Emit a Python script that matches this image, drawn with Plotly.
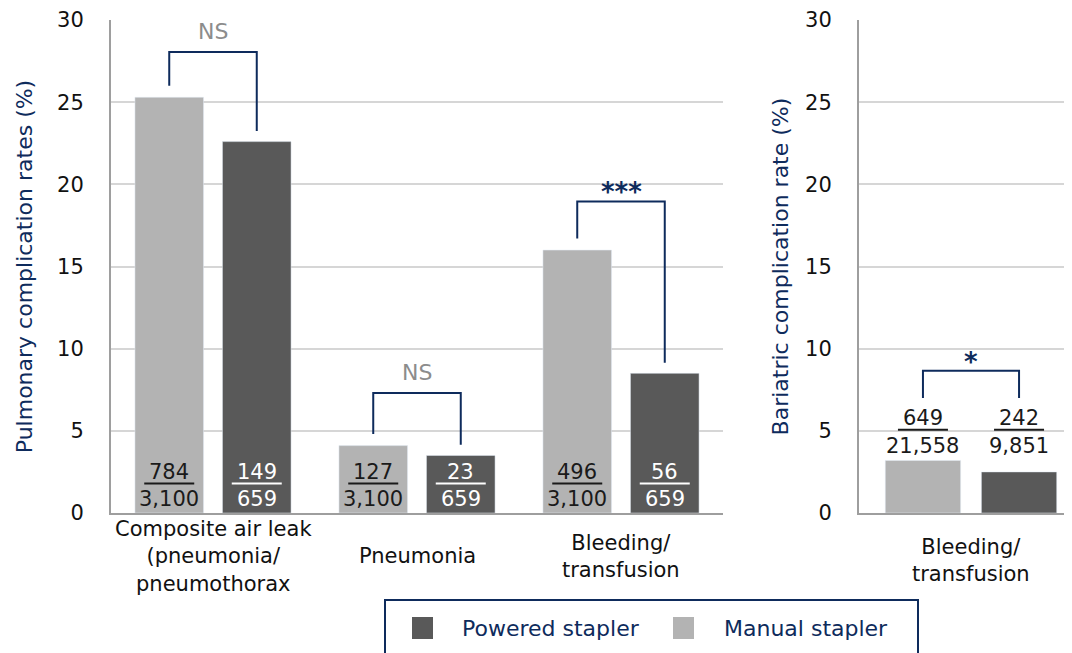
import plotly.graph_objects as go

# ---------------- data ----------------
categories = ["Composite air leak<br>(pneumonia/<br>pneumothorax", "Pneumonia", "Bleeding/<br>transfusion"]
manual_pct = [25.3, 4.1, 16.0]
powered_pct = [22.6, 3.5, 8.5]
manual_events = ["784", "127", "496"]
manual_total = ["3,100", "3,100", "3,100"]
powered_events = ["149", "23", "56"]
powered_total = ["659", "659", "659"]
pulm_significance = ["NS", "NS", "***"]

bari_categories = ["Bleeding/<br>transfusion"]
bari_manual_pct = [3.2]
bari_powered_pct = [2.5]
bari_manual_events = ["649"]
bari_manual_total = ["21,558"]
bari_powered_events = ["242"]
bari_powered_total = ["9,851"]
bari_significance = ["*"]

# ---------------- style ----------------
MANUAL = "#b3b3b3"
POWERED = "#595959"
NAVY = "#0e2b5c"
GREY_TXT = "#8c8c8c"
AXIS = "#9e9e9e"
GRID = "#d6d6d6"
FONT = "DejaVu Sans"

# page body has an 8px margin -> figure starts at (8, 8) on screen
OFF_PAGE = 8
W, H = 1072 - OFF_PAGE, 653 - OFF_PAGE
ML, MR, MT = 111 - OFF_PAGE, 0, 20 - OFF_PAGE
MB = H - (513 - OFF_PAGE)
PW = W - ML - MR
PH = H - MT - MB

def px_x(sx):
    return (sx - OFF_PAGE - ML) / PW

def px_y(sy):
    return (H - MB - (sy - OFF_PAGE)) / PH

BARGAP = 0.142
BARGROUPGAP = 0.216
SLOT = (1 - BARGAP) / 2
OFF = SLOT / 2

fig = go.Figure()

xs = list(range(len(categories)))
fig.add_trace(go.Bar(x=xs, y=manual_pct, name="Manual stapler", marker_color=MANUAL,
                     xaxis="x", yaxis="y", showlegend=False))
fig.add_trace(go.Bar(x=xs, y=powered_pct, name="Powered stapler", marker_color=POWERED,
                     xaxis="x", yaxis="y", showlegend=False))
xb = list(range(len(bari_categories)))
fig.add_trace(go.Bar(x=xb, y=bari_manual_pct, name="Manual stapler", marker_color=MANUAL,
                     xaxis="x2", yaxis="y2", showlegend=False))
fig.add_trace(go.Bar(x=xb, y=bari_powered_pct, name="Powered stapler", marker_color=POWERED,
                     xaxis="x2", yaxis="y2", showlegend=False))

annotations = []
shapes = []

def fraction(xref, yref, xc, num, den, color, y_num, y_line, y_den):
    annotations.append(dict(xref=xref, yref=yref, x=xc, y=y_num, text=num, showarrow=False,
                            xanchor="center", yanchor="middle",
                            font=dict(family=FONT, size=21, color=color)))
    annotations.append(dict(xref=xref, yref=yref, x=xc, y=y_den, text=den, showarrow=False,
                            xanchor="center", yanchor="middle",
                            font=dict(family=FONT, size=21, color=color)))
    shapes.append(dict(type="line", xref=xref, yref=yref, xsizemode="pixel", xanchor=xc,
                       x0=-25, x1=25, y0=y_line, y1=y_line,
                       line=dict(color=color, width=2)))

def bracket(xref, yref, xl, xr, yl, yr, ytop, label, label_y, color_lbl, size, bold=False):
    shapes.append(dict(type="path", xref=xref, yref=yref,
                       path=f"M {xl},{yl} V {ytop} H {xr} V {yr}",
                       line=dict(color=NAVY, width=2)))
    annotations.append(dict(xref=xref, yref=yref, x=(xl + xr) / 2, y=label_y,
                            text=f"<b>{label}</b>" if bold else label, showarrow=False,
                            xanchor="center", yanchor="middle",
                            font=dict(family=FONT, size=size, color=color_lbl)))

# fractions on pulmonary bars
for i in xs:
    fraction("x", "y", i - OFF, manual_events[i], manual_total[i], "#1a1a1a", 2.5, 1.8, 0.85)
    fraction("x", "y", i + OFF, powered_events[i], powered_total[i], "#ffffff", 2.5, 1.8, 0.85)

# fractions above bariatric bars
for i in xb:
    fraction("x2", "y2", i - OFF, bari_manual_events[i], bari_manual_total[i], "#1a1a1a", 5.79, 5.06, 4.09)
    fraction("x2", "y2", i + OFF, bari_powered_events[i], bari_powered_total[i], "#1a1a1a", 5.79, 5.06, 4.09)

# significance brackets (pulmonary)
br_tops = [28.05, 7.3, 18.96]
for i in xs:
    lab = pulm_significance[i]
    star = "*" in lab
    bracket("x", "y", i - OFF, i + OFF, manual_pct[i] + 0.7, powered_pct[i] + 0.65, br_tops[i],
            lab, br_tops[i] + (0.55 if star else 1.25), NAVY if star else GREY_TXT,
            26 if star else 22, bold=star)

for i in xb:
    bracket("x2", "y2", i - OFF, i + OFF, 7.0, 7.0, 8.66, bari_significance[i], 8.66 + 0.55,
            NAVY, 26, bold=True)

# category labels
for i, c in enumerate(categories):
    annotations.append(dict(xref="x", yref="paper", x=i, y=px_y(556), text=c, showarrow=False,
                            xanchor="center", yanchor="middle",
                            font=dict(family=FONT, size=21, color="#111111")))
for i, c in enumerate(bari_categories):
    annotations.append(dict(xref="x2", yref="paper", x=i, y=px_y(560), text=c, showarrow=False,
                            xanchor="center", yanchor="middle",
                            font=dict(family=FONT, size=21, color="#111111")))

# legend (drawn)
shapes.append(dict(type="rect", xref="paper", yref="paper", x0=px_x(385), x1=px_x(918),
                   y0=px_y(665), y1=px_y(600), line=dict(color=NAVY, width=2),
                   fillcolor="rgba(0,0,0,0)"))
legend_items = [("Powered stapler", POWERED, 412, 460), ("Manual stapler", MANUAL, 673, 722)]
for name, col, sx, tx in legend_items:
    shapes.append(dict(type="rect", xref="paper", yref="paper", x0=px_x(sx), x1=px_x(sx + 21),
                       y0=px_y(639), y1=px_y(617), line=dict(width=0), fillcolor=col))
    annotations.append(dict(xref="paper", yref="paper", x=px_x(tx), y=px_y(628), text=name,
                            showarrow=False, xanchor="left", yanchor="middle",
                            font=dict(family=FONT, size=22, color=NAVY)))

axis_common = dict(showgrid=False, zeroline=False, showticklabels=False, ticks="",
                   showline=True, linecolor=AXIS, linewidth=2, automargin=False)
yaxis_common = dict(range=[0, 30], dtick=5, showgrid=True, gridcolor=GRID, gridwidth=1.5,
                    zeroline=False, showline=True, linecolor=AXIS, linewidth=2, ticks="",
                    ticklabelstandoff=21, automargin=False,
                    tickfont=dict(family=FONT, size=21, color="#111111"))

dom_left_end = px_x(723)
dom_right_start = px_x(859)
cat_px_right = 224.0
right_span = (1072 - 859) / cat_px_right

fig.update_layout(
    width=W, height=H,
    margin=dict(l=ML, r=MR, t=MT, b=MB, autoexpand=False),
    paper_bgcolor="white", plot_bgcolor="white",
    barmode="group", bargap=BARGAP, bargroupgap=BARGROUPGAP,
    xaxis=dict(domain=[0, dom_left_end], range=[-0.5, len(categories) - 0.5], anchor="y",
               **axis_common),
    xaxis2=dict(domain=[dom_right_start, 1], range=[-0.5, -0.5 + right_span], anchor="y2",
                **axis_common),
    yaxis=dict(anchor="x", title=dict(text="Pulmonary complication rates (%)",
                                      font=dict(family=FONT, size=22, color=NAVY), standoff=18),
               **yaxis_common),
    yaxis2=dict(anchor="x2", title=dict(text="Bariatric complication rate (%)",
                                        font=dict(family=FONT, size=22, color=NAVY), standoff=10),
                **yaxis_common),
    annotations=annotations,
    shapes=shapes,
    showlegend=False,
)

fig.write_html("out.html")
